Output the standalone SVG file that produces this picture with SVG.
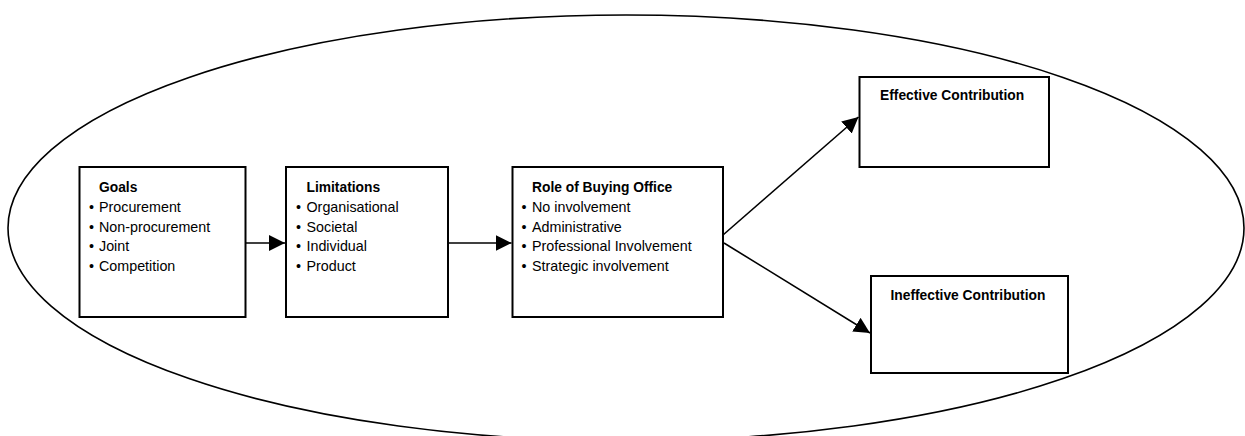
<svg xmlns="http://www.w3.org/2000/svg" width="1245" height="436" viewBox="0 0 1245 436">
  <style>
    .box { fill: #ffffff; stroke: #000000; stroke-width: 2; }
    .edge { fill: none; stroke: #000000; stroke-width: 1.6; }
    .title { font-family: "Liberation Sans", Arial, sans-serif; font-size: 13.8px; font-weight: bold; fill: #000000; }
    .item { font-family: "Liberation Sans", Arial, sans-serif; font-size: 14.3px; fill: #000000; }
    .dot { font-family: "Liberation Sans", Arial, sans-serif; font-size: 14.3px; fill: #000000; text-anchor: middle; }
  </style>
  <defs>
    <marker id="head" markerUnits="userSpaceOnUse" markerWidth="18" markerHeight="16" refX="16" refY="8" orient="auto">
      <path d="M0,0 L16,8 L0,16 Z" fill="#000000"/>
    </marker>
  </defs>

  <rect width="1245" height="436" fill="#ffffff"/>

  <!-- enclosing ellipse -->
  <ellipse id="boundary" cx="626" cy="228" rx="618" ry="213" fill="none" stroke="#000000" stroke-width="1.6"/>

  <g id="goals">
    <rect class="box" x="79.5" y="167" width="166" height="150"/>
    <text class="title" x="99" y="192">Goals</text>
    <text class="dot" x="91.5" y="212">•</text><text class="item" x="99" y="212">Procurement</text>
    <text class="dot" x="91.5" y="231.5">•</text><text class="item" x="99" y="231.5">Non-procurement</text>
    <text class="dot" x="91.5" y="251">•</text><text class="item" x="99" y="251">Joint</text>
    <text class="dot" x="91.5" y="270.5">•</text><text class="item" x="99" y="270.5">Competition</text>
  </g>

  <g id="limitations">
    <rect class="box" x="286" y="167" width="162" height="150"/>
    <text class="title" x="306.5" y="192">Limitations</text>
    <text class="dot" x="298.5" y="212">•</text><text class="item" x="306.5" y="212">Organisational</text>
    <text class="dot" x="298.5" y="231.5">•</text><text class="item" x="306.5" y="231.5">Societal</text>
    <text class="dot" x="298.5" y="251">•</text><text class="item" x="306.5" y="251">Individual</text>
    <text class="dot" x="298.5" y="270.5">•</text><text class="item" x="306.5" y="270.5">Product</text>
  </g>

  <g id="role">
    <rect class="box" x="512.5" y="167" width="210.5" height="150"/>
    <text class="title" x="532" y="192">Role of Buying Office</text>
    <text class="dot" x="524" y="212">•</text><text class="item" x="532" y="212">No involvement</text>
    <text class="dot" x="524" y="231.5">•</text><text class="item" x="532" y="231.5">Administrative</text>
    <text class="dot" x="524" y="251">•</text><text class="item" x="532" y="251">Professional Involvement</text>
    <text class="dot" x="524" y="270.5">•</text><text class="item" x="532" y="270.5">Strategic involvement</text>
  </g>

  <g id="effective">
    <rect class="box" x="859.5" y="77" width="189.5" height="90"/>
    <text class="title" x="880" y="100">Effective Contribution</text>
  </g>

  <g id="ineffective">
    <rect class="box" x="871" y="276" width="197" height="97"/>
    <text class="title" x="890.5" y="300">Ineffective Contribution</text>
  </g>

  <g id="connectors">
    <line class="edge" x1="246" y1="243" x2="285" y2="243" marker-end="url(#head)"/>
    <line class="edge" x1="448" y1="243" x2="511.5" y2="243" marker-end="url(#head)"/>
    <line class="edge" x1="723" y1="235" x2="858.5" y2="117" marker-end="url(#head)"/>
    <line class="edge" x1="724" y1="243" x2="870" y2="333" marker-end="url(#head)"/>
  </g>
</svg>
